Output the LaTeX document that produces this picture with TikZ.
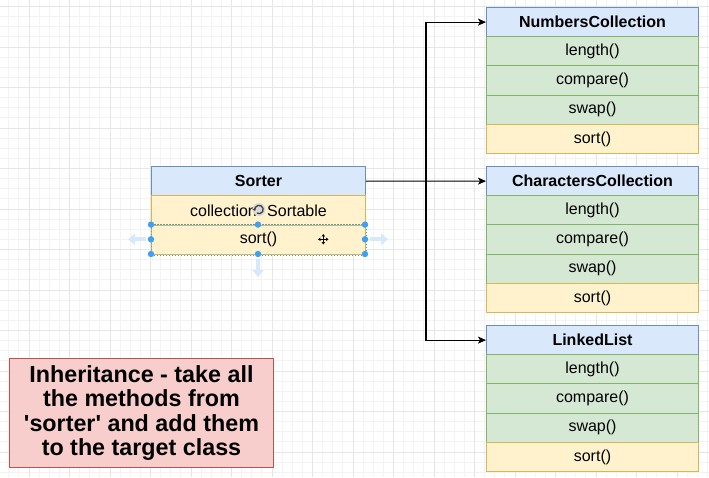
\documentclass[tikz,border=0pt]{standalone}
\usepackage{fontspec}
\setmainfont{Liberation Sans}
\usetikzlibrary{arrows.meta}
\definecolor{hdrF}{HTML}{DAE8FC}
\definecolor{hdrB}{HTML}{6C8EBF}
\definecolor{grnF}{HTML}{D5E8D4}
\definecolor{grnB}{HTML}{82B366}
\definecolor{ylwF}{HTML}{FFF2CC}
\definecolor{ylwB}{HTML}{D6B656}
\definecolor{pnkF}{HTML}{F8CECC}
\definecolor{pnkB}{HTML}{B85450}
\definecolor{gridMin}{HTML}{F3F3F3}
\definecolor{gridMaj}{HTML}{E6E6E6}
\definecolor{handleC}{HTML}{3EA0F0}
\definecolor{paleC}{HTML}{D6E8FA}
\tikzset{
  boxbase/.style={line width=1pt, anchor=north west, inner sep=0pt, minimum height=29.2pt},
  hdr/.style={boxbase, draw=hdrB, fill=hdrF, font=\bfseries\fontsize{16}{19}\selectfont},
  grn/.style={boxbase, draw=grnB, fill=grnF, font=\fontsize{16}{19}\selectfont},
  ylw/.style={boxbase, draw=ylwB, fill=ylwF, font=\fontsize{16}{19}\selectfont},
  rwide/.style={minimum width=212pt},
  lwide/.style={minimum width=214pt, minimum height=29.3pt},
  conn/.style={line width=1.1pt, draw=black},
  arr/.style={conn, -{Stealth[length=8pt,width=7pt,inset=2pt]}},
  note/.style={draw=pnkB, fill=pnkF, line width=1pt, minimum width=264pt, minimum height=109pt,
    inner sep=0pt, anchor=north west, align=center,
    font=\bfseries\fontsize{23.3}{24.3}\selectfont},
  handle/.style={fill=handleC},
  pale/.style={line width=4pt, draw=paleC, -{Triangle[length=7pt,width=11pt]}},
}
\begin{document}
\begin{tikzpicture}[x=1pt,y=-1pt]
\useasboundingbox (0,0) rectangle (709,477);
\fill[white] (0,0) rectangle (709,477);
\begin{scope}
\clip (0,0) rectangle (709,477);
\foreach \i in {-3,...,68} { \draw[gridMin, line width=0.8pt] ({29+\i*10.125},0) -- ({29+\i*10.125},477); }
\foreach \i in {0,...,47} { \draw[gridMin, line width=0.8pt] (0,{6.5+\i*10.125}) -- (709,{6.5+\i*10.125}); }
\foreach \i in {-1,...,17} { \draw[gridMaj, line width=0.8pt] ({29+\i*40.5},0) -- ({29+\i*40.5},477); }
\foreach \i in {0,...,11} { \draw[gridMaj, line width=0.8pt] (0,{6.5+\i*40.5}) -- (709,{6.5+\i*40.5}); }
\end{scope}

% Sorter
\node[hdr, lwide] (sorterH) at (151,166) {Sorter};
\node[ylw, lwide] (sorterC) at (151,195.3) {collection: Sortable};
\node[ylw, lwide] (sorterS) at (151,224.6) {sort()};

% NumbersCollection
\node[hdr, rwide] (numH) at (486,7) {NumbersCollection};
\node[grn, rwide] (numL) at (486,36.2) {length()};
\node[grn, rwide] (numC) at (486,65.4) {compare()};
\node[grn, rwide] (numW) at (486,94.6) {swap()};
\node[ylw, rwide] (numS) at (486,123.8) {sort()};

% CharactersCollection
\node[hdr, rwide] (chrH) at (486,166) {CharactersCollection};
\node[grn, rwide] (chrL) at (486,195.2) {length()};
\node[grn, rwide] (chrC) at (486,224.4) {compare()};
\node[grn, rwide] (chrW) at (486,253.6) {swap()};
\node[ylw, rwide] (chrS) at (486,282.8) {sort()};

% LinkedList
\node[hdr, rwide] (llH) at (486,325) {LinkedList};
\node[grn, rwide] (llL) at (486,354.2) {length()};
\node[grn, rwide] (llC) at (486,383.4) {compare()};
\node[grn, rwide] (llW) at (486,412.6) {swap()};
\node[ylw, rwide] (llS) at (486,441.8) {sort()};

% connectors
\coordinate (junc) at (426,180.6);
\draw[arr] (sorterH.east) -- (chrH.west);
\draw[arr] (junc) |- (numH.west);
\draw[arr] (junc) |- (llH.west);

% note
\node[note] (note) at (9,358) {Inheritance - take all\\the methods from\\\textquotesingle sorter\textquotesingle{} and add them\\to the target class};

% selection decorations
\draw[handleC, line width=0.6pt, dash pattern=on 1.5pt off 1.5pt] (sorterS.north west) rectangle (sorterS.south east);
\foreach \p in {(151,224.6),(258,224.6),(365,224.6),(151,239.3),(365,239.3),(151,254),(258,254),(365,254)}
  \fill[handle] \p circle (3.2);
\coordinate (pl1) at (146,239.3); \coordinate (pl2) at (128,239.3);
\coordinate (pr1) at (370,239.3); \coordinate (pr2) at (388,239.3);
\coordinate (pb1) at (258,259); \coordinate (pb2) at (258,277);
\draw[pale] (pl1) -- (pl2);
\draw[pale] (pr1) -- (pr2);
\draw[pale] (pb1) -- (pb2);
% rotate icon
\fill[gray!30] (259,209.5) circle (6.5);
\draw[black!75, line width=1.3pt, -{Stealth[length=2.8pt,width=4pt]}] (259,209.5) ++(120:4.2) arc[start angle=120, end angle=-200, radius=4.2];
% move icon
\begin{scope}[line width=1.4pt, -{Stealth[length=2.6pt,width=3.6pt]}]
\draw (323.3,239.3) -- (328.5,239.3);
\draw (323.3,239.3) -- (318.1,239.3);
\draw (323.3,239.3) -- (323.3,234.1);
\draw (323.3,239.3) -- (323.3,244.5);
\end{scope}
\end{tikzpicture}
\end{document}
